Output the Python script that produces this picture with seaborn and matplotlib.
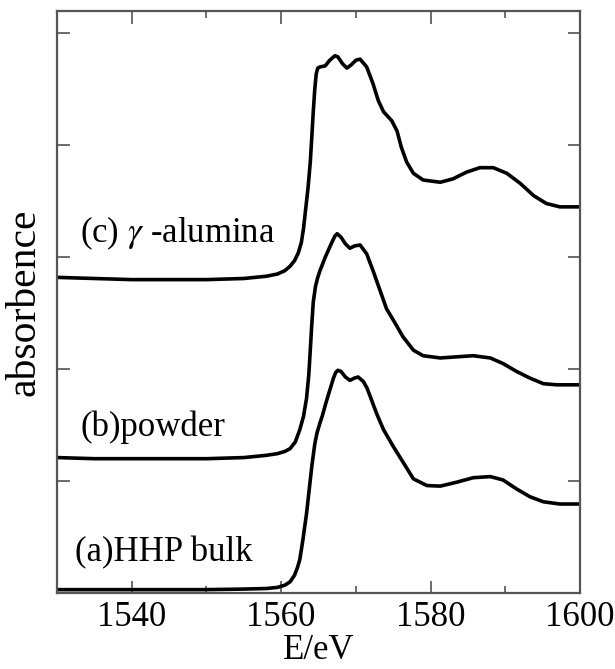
import matplotlib
matplotlib.use("Agg")
import matplotlib.pyplot as plt
import seaborn as sns
import pandas as pd
from matplotlib.ticker import MultipleLocator

# ---- data ----
energy_c = [1530, 1535, 1540, 1545, 1550, 1555, 1558, 1559.5, 1560.5, 1561.2, 1561.8, 1562.3,
            1562.7, 1563.0, 1563.3, 1563.6, 1563.9, 1564.1, 1564.3, 1564.5, 1564.7, 1564.9,
            1565.2, 1565.9, 1566.5, 1567.2, 1567.6, 1568.2, 1568.8, 1569.4, 1570.0, 1570.56,
            1571.45, 1572.3, 1573.0, 1573.7, 1574.8, 1575.5, 1576.1, 1576.8, 1577.7, 1579.0,
            1581.3, 1583.0, 1584.8, 1586.6, 1588.4, 1590.2, 1592.0, 1593.8, 1595.5, 1597.3,
            1600]
absorb_c = [2.82, 2.81, 2.80, 2.80, 2.80, 2.81, 2.83, 2.85, 2.88, 2.92, 2.97, 3.04,
            3.13, 3.26, 3.44, 3.62, 3.85, 4.07, 4.30, 4.50, 4.64, 4.69,
            4.70, 4.71, 4.76, 4.80, 4.79, 4.73, 4.69, 4.72, 4.76, 4.77,
            4.70, 4.55, 4.40, 4.30, 4.22, 4.13, 3.98, 3.85, 3.75, 3.69,
            3.67, 3.70, 3.76, 3.80, 3.80, 3.75, 3.66, 3.55, 3.48, 3.45,
            3.45]

energy_b = [1530, 1535, 1540, 1545, 1550, 1555, 1558, 1559.5, 1560.5, 1561.2, 1561.9, 1562.5,
            1563.0, 1563.4, 1563.7, 1563.9, 1564.1, 1564.3, 1564.6, 1564.9, 1565.2, 1565.9,
            1566.7, 1567.2, 1567.5, 1568.0, 1568.6, 1569.2, 1569.8, 1570.56, 1571.45, 1572.3,
            1573.2, 1574.1, 1575.0, 1576.3, 1577.7, 1579.0, 1581.3, 1583.5, 1585.7, 1588.0,
            1589.7, 1591.5, 1593.3, 1595.1, 1596.9, 1600]
absorb_b = [1.21, 1.20, 1.20, 1.20, 1.20, 1.21, 1.23, 1.245, 1.265, 1.29, 1.35, 1.46,
            1.58, 1.74, 1.95, 2.17, 2.40, 2.60, 2.74, 2.82, 2.88, 3.00,
            3.12, 3.19, 3.21, 3.18, 3.12, 3.08, 3.10, 3.11, 3.03, 2.88,
            2.71, 2.54, 2.44, 2.29, 2.17, 2.12, 2.10, 2.11, 2.12, 2.10,
            2.05, 1.98, 1.92, 1.87, 1.86, 1.86]

energy_a = [1530, 1535, 1540, 1545, 1550, 1555, 1558, 1559.5, 1560.5, 1561.2, 1561.8, 1562.2,
            1562.5, 1562.9, 1563.4, 1563.8, 1564.1, 1564.5, 1564.8, 1565.2, 1565.5, 1566.0,
            1566.5, 1567.0, 1567.3, 1567.6, 1568.0, 1568.6, 1569.2, 1569.8, 1570.3, 1571.0,
            1571.5, 1571.9, 1572.8, 1573.7, 1575.0, 1576.4, 1577.7, 1579.5, 1581.3, 1583.5,
            1585.7, 1588.0, 1589.7, 1591.5, 1593.3, 1595.1, 1597.3, 1600]
absorb_a = [0.03, 0.03, 0.03, 0.03, 0.03, 0.035, 0.04, 0.05, 0.07, 0.10, 0.16, 0.23,
            0.30, 0.47, 0.71, 0.95, 1.13, 1.33, 1.43, 1.52, 1.58, 1.70,
            1.81, 1.92, 1.97, 1.99, 1.98, 1.93, 1.90, 1.92, 1.93, 1.89,
            1.83, 1.76, 1.60, 1.46, 1.31, 1.16, 1.02, 0.96, 0.955, 0.99,
            1.03, 1.04, 1.01, 0.93, 0.86, 0.815, 0.795, 0.795]

labels = ["(a)HHP bulk", "(b)powder", "(c) $\\gamma$ -alumina"]
label_x = [1532.4, 1533.1, 1533.1]
label_y = [0.36, 1.48, 3.21]

x_ticks = [1540, 1560, 1580, 1600]

# ---- build table ----
df = pd.concat([
    pd.DataFrame({"E": energy_a, "A": absorb_a, "s": "a"}),
    pd.DataFrame({"E": energy_b, "A": absorb_b, "s": "b"}),
    pd.DataFrame({"E": energy_c, "A": absorb_c, "s": "c"}),
])

sns.set_style("ticks")
plt.rcParams["font.family"] = ["Liberation Serif", "DejaVu Serif"]
plt.rcParams["mathtext.fontset"] = "stix"
plt.rcParams["text.color"] = "black"
plt.rcParams["axes.labelcolor"] = "black"
plt.rcParams["xtick.labelcolor"] = "black"

fig = plt.figure(figsize=(6.15, 6.69), dpi=100)
ax = fig.add_axes([57 / 615, 1 - 593 / 669, (580 - 57) / 615, (593 - 11) / 669])

sns.lineplot(data=df, x="E", y="A", hue="s", palette=["black"] * 3, units="s",
             estimator=None, sort=False, legend=False, linewidth=2.6, ax=ax)

ax.set_xlim(1530, 1600)
ax.set_ylim(0, 5.2)
ax.set_xticks(x_ticks)
ax.xaxis.set_minor_locator(MultipleLocator(10))
ax.set_yticks([1, 2, 3, 4, 5])
ax.set_yticklabels([])

ax.tick_params(axis="both", which="major", direction="in", length=9, width=1.1,
               color="#444444", labelcolor="black", top=True, right=True,
               labelsize=25, pad=6)
ax.tick_params(axis="x", which="minor", direction="in", length=5, width=1.1,
               color="#444444", top=True, bottom=True)
for sp in ax.spines.values():
    sp.set_linewidth(1.6)
    sp.set_color("#555555")

ax.set_xlabel("E/eV", fontsize=25, labelpad=0)
ax.set_ylabel("absorbence", fontsize=30, labelpad=4)

for lx, ly, t in zip(label_x, label_y, labels):
    ax.text(lx, ly, t, fontsize=25, ha="left", va="center")

fig.savefig("out.png", dpi=100, facecolor="white")
